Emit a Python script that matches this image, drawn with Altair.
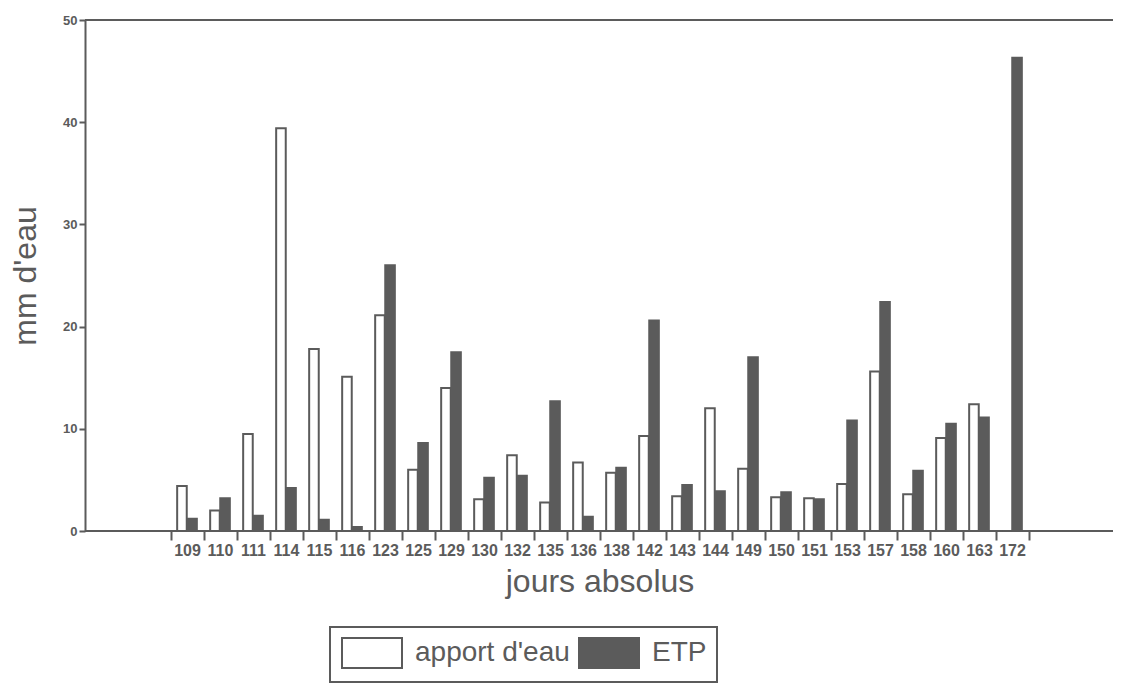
import altair as alt
import pandas as pd

# ---- data ----
days = ["109", "110", "111", "114", "115", "116", "123", "125", "129", "130",
        "132", "135", "136", "138", "142", "143", "144", "149", "150", "151",
        "153", "157", "158", "160", "163", "172"]
apport = [4.4, 2.0, 9.5, 39.4, 17.8, 15.1, 21.1, 6.0, 14.0, 3.1,
          7.4, 2.8, 6.7, 5.7, 9.3, 3.4, 12.0, 6.1, 3.3, 3.2,
          4.6, 15.6, 3.6, 9.1, 12.4, 0.0]
etp = [1.2, 3.2, 1.5, 4.2, 1.1, 0.4, 26.0, 8.6, 17.5, 5.2,
       5.4, 12.7, 1.4, 6.2, 20.6, 4.5, 3.9, 17.0, 3.8, 3.1,
       10.8, 22.4, 5.9, 10.5, 11.1, 46.3]
series = ["apport d'eau", "ETP"]
y_ticks = [0, 10, 20, 30, 40, 50]
frame_lines = [0, 50]   # bottom axis line and top border of the frame

rows = []
for d, a, e in zip(days, apport, etp):
    rows.append({"jour": d, "serie": series[0], "mm": a})
    rows.append({"jour": d, "serie": series[1], "mm": e})
df = pd.DataFrame(rows)

INK = "#5b5b5b"
FONT = "Liberation Sans"

bars = alt.Chart(df).mark_bar(stroke=INK, strokeWidth=2, opacity=1).encode(
    x=alt.X(
        "jour:N", sort=days, title="jours absolus",
        scale=alt.Scale(paddingInner=0, paddingOuter=0, range=[85.5, 943.5]),
        axis=alt.Axis(labelAngle=0, tickBand="extent", tickSize=9, tickWidth=2,
                      domain=False,
                      labelFont=FONT, labelFontSize=16, labelFontWeight="bold",
                      labelPadding=2, titleFont=FONT, titleFontSize=32,
                      titleFontWeight="normal", titlePadding=8, grid=False),
    ),
    xOffset=alt.XOffset("serie:N", sort=series,
                        scale=alt.Scale(paddingInner=0.05, paddingOuter=0.66)),
    y=alt.Y(
        "mm:Q", title="mm d'eau",
        scale=alt.Scale(domain=[0, 50], nice=False),
        axis=alt.Axis(values=y_ticks, tickSize=6, tickWidth=2,
                      labelFont=FONT, labelFontSize=13, labelFontWeight="bold",
                      titleFont=FONT, titleFontSize=32, titleFontWeight="normal",
                      titlePadding=20, grid=False),
    ),
    fill=alt.Fill(
        "serie:N", sort=series,
        scale=alt.Scale(domain=series, range=["white", INK]),
        legend=alt.Legend(
            title=None, orient="none", legendX=245, legendY=607,
            direction="horizontal", columns=2, gridAlign="all",
            symbolType="M-2,-1H2V1H-2Z", symbolSize=900, symbolOffset=16,
            symbolStrokeColor=INK, symbolStrokeWidth=2, symbolOpacity=1,
            labelFont=FONT, labelFontSize=28, labelColor=INK, labelOffset=27,
            labelLimit=400, columnPadding=5, padding=10, strokeColor=INK,
        ),
    ),
)

frame = alt.Chart(pd.DataFrame({"v": frame_lines})).mark_rule(
    color=INK, strokeWidth=2).encode(y="v:Q")

chart = alt.layer(frame, bars).properties(
    width=1028, height=511,
    autosize=alt.AutoSizeParams(type="none"),
    padding={"left": 77, "top": 12, "right": 0, "bottom": 154},
).configure_view(stroke=None).configure_axis(
    domainColor=INK, domainWidth=2, tickColor=INK, labelColor=INK, titleColor=INK,
).configure_legend(strokeWidth=2)

chart.save("out.html", embed_options={"renderer": "svg", "actions": False})
